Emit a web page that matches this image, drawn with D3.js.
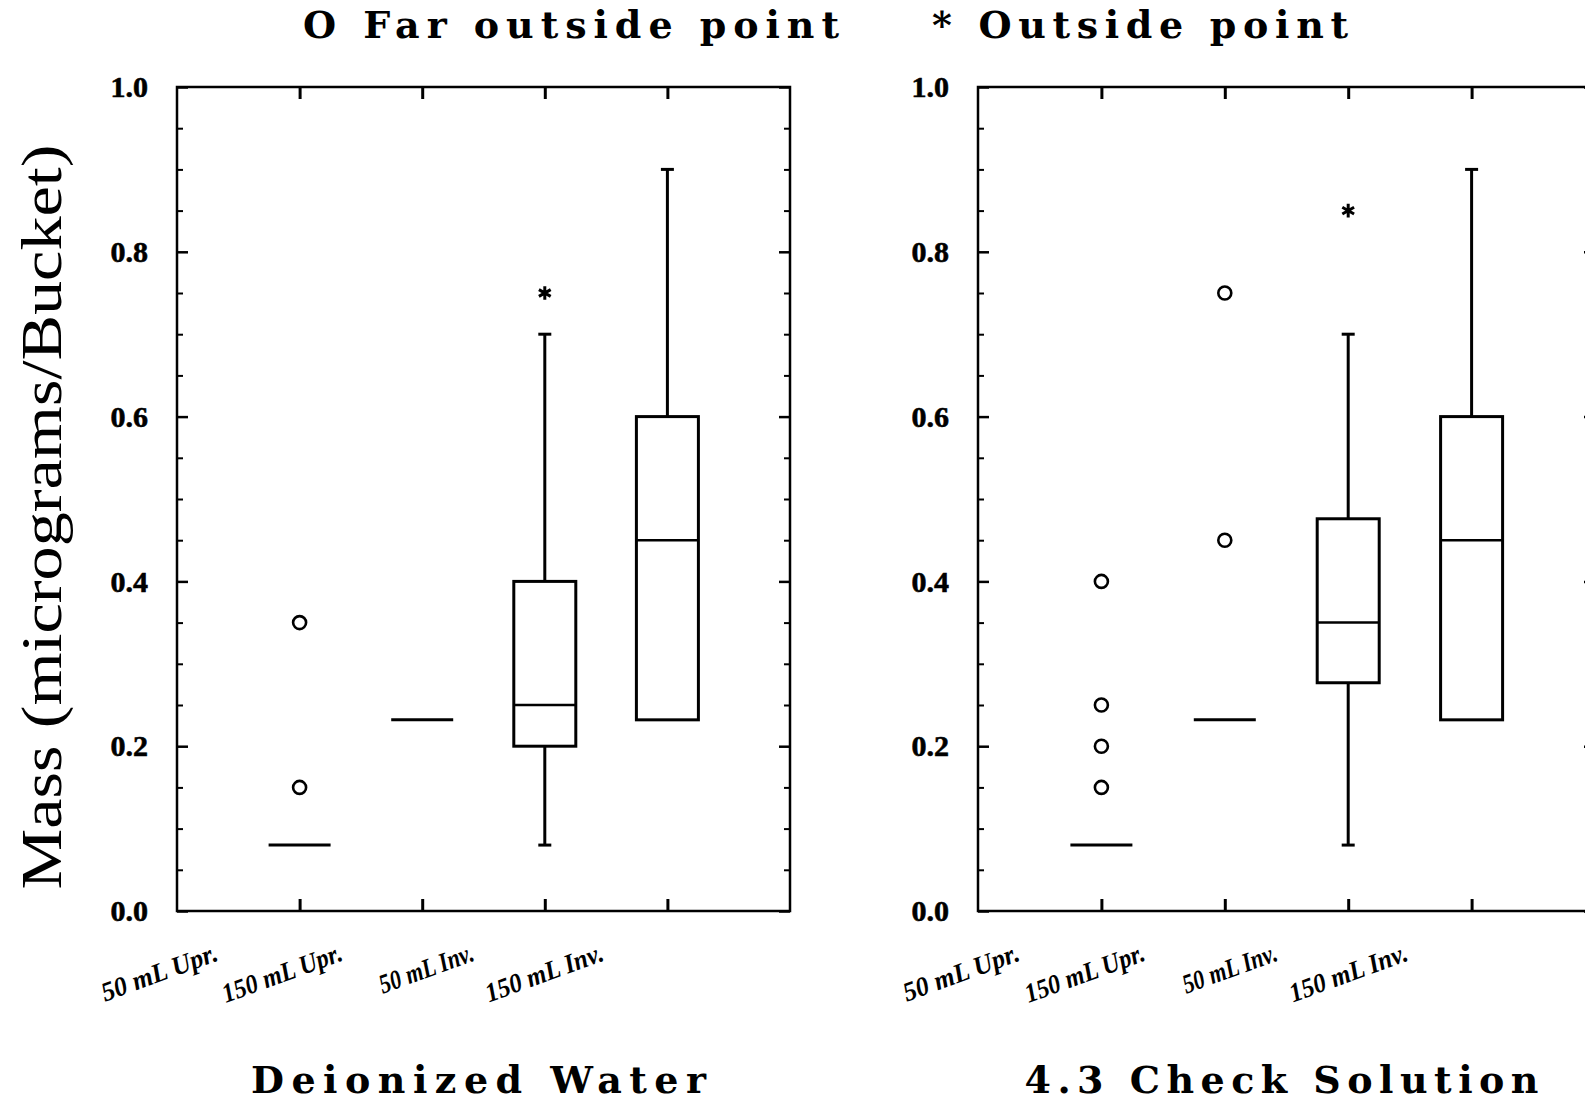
<!DOCTYPE html>
<html>
<head>
<meta charset="utf-8">
<script src="https://cdn.jsdelivr.net/npm/d3@7"></script>
<style>
  html, body { margin: 0; padding: 0; background: #fff; }
  svg { display: block; }
</style>
</head>
<body>
<script>
// ---------------- DATA ----------------
const categories = ["50 mL Upr.", "150 mL Upr.", "50 mL Inv.", "150 mL Inv."];
const panelTitles = ["Deionized Water", "4.3 Check Solution"];
const yTickValues = [0, 0.2, 0.4, 0.6, 0.8, 1.0];
const yTickLabels = ["0.0", "0.2", "0.4", "0.6", "0.8", "1.0"];
const yMinorTicks = [0.05, 0.1, 0.15, 0.25, 0.3, 0.35, 0.45, 0.5, 0.55, 0.65, 0.7, 0.75, 0.85, 0.9, 0.95];
const legendLabels = ["O Far outside point", "* Outside point"];
const yTitle = "Mass (micrograms/Bucket)";

// Deionized Water
const dwLow    = [0.08, 0.232, 0.08, 0.232];
const dwQ1     = [0.08, 0.232, 0.20, 0.232];
const dwMedian = [0.08, 0.232, 0.25, 0.45];
const dwQ3     = [0.08, 0.232, 0.40, 0.60];
const dwHigh   = [0.08, 0.232, 0.70, 0.90];
const dwFarCat = ["50 mL Upr.", "50 mL Upr."];
const dwFarVal = [0.35, 0.15];
const dwOutCat = ["50 mL Inv."];
const dwOutVal = [0.75];

// 4.3 Check Solution
const csLow    = [0.08, 0.232, 0.08, 0.232];
const csQ1     = [0.08, 0.232, 0.277, 0.232];
const csMedian = [0.08, 0.232, 0.35, 0.45];
const csQ3     = [0.08, 0.232, 0.476, 0.60];
const csHigh   = [0.08, 0.232, 0.70, 0.90];
const csFarCat = ["50 mL Upr.", "50 mL Upr.", "50 mL Upr.", "50 mL Upr.", "150 mL Upr.", "150 mL Upr."];
const csFarVal = [0.40, 0.25, 0.20, 0.15, 0.75, 0.45];
const csOutCat = ["50 mL Inv."];
const csOutVal = [0.85];

// ---------------- LAYOUT ----------------
const W = 1585, H = 1103;
const yTop = 87, yBottom = 911;
// per-label styling of the rotated category labels (end shift, rendered length)
const xLabelShift = [-80, -78, -69, -62];
const xLabelLength = [122, 126, 99, 124];

const panels = [
  { x0: 177, x1: 790, title: panelTitles[0], titleLen: 455,
    low: dwLow, q1: dwQ1, med: dwMedian, q3: dwQ3, high: dwHigh,
    farCat: dwFarCat, farVal: dwFarVal, outCat: dwOutCat, outVal: dwOutVal },
  { x0: 978, x1: 1595, title: panelTitles[1], titleLen: 514,
    low: csLow, q1: csQ1, med: csMedian, q3: csQ3, high: csHigh,
    farCat: csFarCat, farVal: csFarVal, outCat: csOutCat, outVal: csOutVal }
];

const svg = d3.select("body").append("svg")
  .attr("width", W).attr("height", H)
  .attr("viewBox", `0 0 ${W} ${H}`);
svg.append("rect").attr("width", W).attr("height", H).attr("fill", "#fff");

const y = d3.scaleLinear().domain([0, 1]).range([yBottom, yTop]);

const boxW = 62, capW = 13;
const serif = "'Liberation Serif', 'Times New Roman', serif";
const wideSerif = "'DejaVu Serif', 'Liberation Serif', serif";

panels.forEach((p, pi) => {
  const x = d3.scalePoint().domain(categories).range([p.x0, p.x1]).padding(1);
  const g = svg.append("g");

  // left axis major with labels
  const la = g.append("g").attr("transform", `translate(${p.x0},0)`)
    .call(d3.axisLeft(y).tickValues(yTickValues).tickSize(-11).tickPadding(29)
      .tickFormat((d, i) => yTickLabels[i]));
  la.select(".domain").remove();
  la.selectAll("line").attr("stroke", "#000").attr("stroke-width", 2.5);
  la.selectAll("text").attr("font-family", serif).attr("font-weight", "bold")
    .attr("font-size", 30).attr("fill", "#000")
    .attr("stroke", "#000").attr("stroke-width", 0.6);

  // left minor
  const lm = g.append("g").attr("transform", `translate(${p.x0},0)`)
    .call(d3.axisLeft(y).tickValues(yMinorTicks).tickSize(-6).tickFormat(""));
  lm.select(".domain").remove();
  lm.selectAll("line").attr("stroke", "#000").attr("stroke-width", 2);

  // right major / minor
  const ra = g.append("g").attr("transform", `translate(${p.x1},0)`)
    .call(d3.axisRight(y).tickValues(yTickValues).tickSize(-11).tickFormat(""));
  ra.select(".domain").remove();
  ra.selectAll("line").attr("stroke", "#000").attr("stroke-width", 2.5);
  const rm = g.append("g").attr("transform", `translate(${p.x1},0)`)
    .call(d3.axisRight(y).tickValues(yMinorTicks).tickSize(-6).tickFormat(""));
  rm.select(".domain").remove();
  rm.selectAll("line").attr("stroke", "#000").attr("stroke-width", 2);

  // top ticks
  const ta = g.append("g").attr("transform", `translate(0,${yTop})`)
    .call(d3.axisTop(x).tickSize(-12).tickFormat(""));
  ta.select(".domain").remove();
  ta.selectAll("line").attr("stroke", "#000").attr("stroke-width", 3);

  // bottom ticks
  const ba = g.append("g").attr("transform", `translate(0,${yBottom})`)
    .call(d3.axisBottom(x).tickSize(-12).tickFormat(""));
  ba.select(".domain").remove();
  ba.selectAll("line").attr("stroke", "#000").attr("stroke-width", 3);

  // frame
  g.append("rect").attr("x", p.x0).attr("y", yTop)
    .attr("width", p.x1 - p.x0).attr("height", yBottom - yTop)
    .attr("fill", "none").attr("stroke", "#000").attr("stroke-width", 2.5);

  // category labels (rotated)
  g.selectAll(".xlab").data(categories).join("text")
    .attr("class", "xlab")
    .attr("transform", (d, i) => `translate(${x(d) + xLabelShift[i]},960) rotate(-20)`)
    .attr("text-anchor", "end")
    .attr("font-family", serif).attr("font-style", "italic").attr("font-weight", "bold")
    .attr("font-size", 27).attr("fill", "#000")
    .attr("textLength", (d, i) => xLabelLength[i]).attr("lengthAdjust", "spacingAndGlyphs")
    .text(d => d);

  // whiskers / boxes
  categories.forEach((c, i) => {
    const cx = x(c);
    if (p.high[i] > p.q3[i]) {
      g.append("line").attr("x1", cx).attr("x2", cx)
        .attr("y1", y(p.q3[i])).attr("y2", y(p.high[i]))
        .attr("stroke", "#000").attr("stroke-width", 3);
      g.append("line").attr("x1", cx - capW / 2).attr("x2", cx + capW / 2)
        .attr("y1", y(p.high[i])).attr("y2", y(p.high[i]))
        .attr("stroke", "#000").attr("stroke-width", 3);
    }
    if (p.low[i] < p.q1[i]) {
      g.append("line").attr("x1", cx).attr("x2", cx)
        .attr("y1", y(p.q1[i])).attr("y2", y(p.low[i]))
        .attr("stroke", "#000").attr("stroke-width", 3);
      g.append("line").attr("x1", cx - capW / 2).attr("x2", cx + capW / 2)
        .attr("y1", y(p.low[i])).attr("y2", y(p.low[i]))
        .attr("stroke", "#000").attr("stroke-width", 3);
    }
    if (p.q3[i] > p.q1[i]) {
      g.append("rect").attr("x", cx - boxW / 2).attr("y", y(p.q3[i]))
        .attr("width", boxW).attr("height", y(p.q1[i]) - y(p.q3[i]))
        .attr("fill", "none").attr("stroke", "#000").attr("stroke-width", 3);
      g.append("line").attr("x1", cx - boxW / 2).attr("x2", cx + boxW / 2)
        .attr("y1", y(p.med[i])).attr("y2", y(p.med[i]))
        .attr("stroke", "#000").attr("stroke-width", 2.5);
    } else {
      g.append("line").attr("x1", cx - boxW / 2).attr("x2", cx + boxW / 2)
        .attr("y1", y(p.med[i])).attr("y2", y(p.med[i]))
        .attr("stroke", "#000").attr("stroke-width", 3);
    }
  });

  // far outside points
  g.selectAll(".far").data(p.farVal).join("circle")
    .attr("class", "far")
    .attr("cx", (d, i) => x(p.farCat[i])).attr("cy", d => y(d))
    .attr("r", 6.5).attr("fill", "none").attr("stroke", "#000").attr("stroke-width", 2.6);

  // outside points
  g.selectAll(".out").data(p.outVal).join("path")
    .attr("class", "out")
    .attr("transform", (d, i) => `translate(${x(p.outCat[i])},${y(d)})`)
    .attr("d", d3.symbol(d3.symbolAsterisk, 130)())
    .attr("fill", "none").attr("stroke", "#000").attr("stroke-width", 3);

  // panel title
  g.append("text")
    .attr("x", (p.x0 + p.x1) / 2 - 5).attr("y", 1093)
    .attr("text-anchor", "middle")
    .attr("font-family", wideSerif).attr("font-weight", "bold")
    .attr("font-size", 38).attr("fill", "#000")
    .attr("textLength", p.titleLen).attr("lengthAdjust", "spacing")
    .text(p.title);
});

// legend
const legendPos = [{ x: 303, len: 536 }, { x: 932, len: 416 }];
svg.selectAll(".legend").data(legendLabels).join("text")
  .attr("class", "legend")
  .attr("x", (d, i) => legendPos[i].x).attr("y", 38)
  .attr("font-family", wideSerif).attr("font-weight", "bold")
  .attr("font-size", 38).attr("fill", "#000")
  .attr("textLength", (d, i) => legendPos[i].len).attr("lengthAdjust", "spacing")
  .text(d => d);

// y-axis title
svg.append("text")
  .attr("transform", "translate(61,517) rotate(-90)")
  .attr("text-anchor", "middle")
  .attr("font-family", serif).attr("font-size", 58).attr("fill", "#000")
  .attr("textLength", 745).attr("lengthAdjust", "spacingAndGlyphs")
  .text(yTitle);
</script>
</body>
</html>
